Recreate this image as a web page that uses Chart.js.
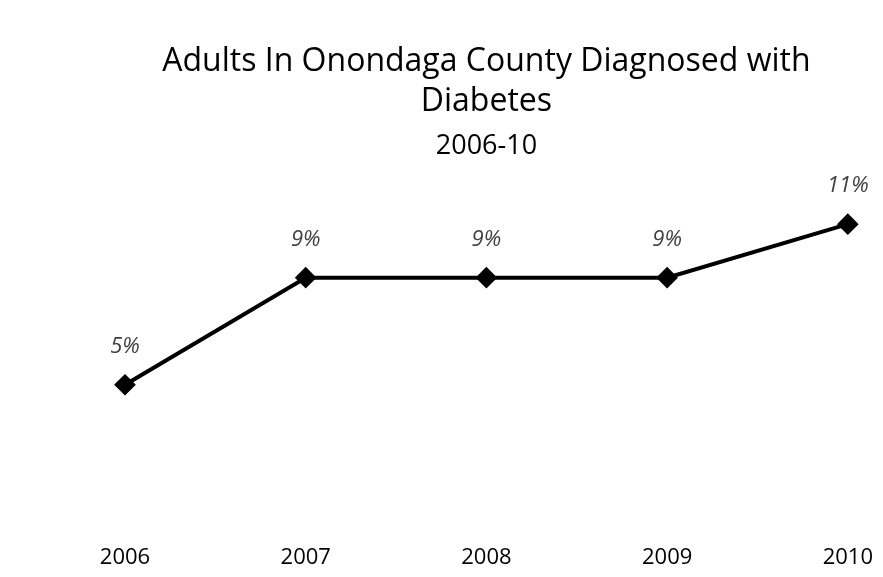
<!DOCTYPE html>
<html><head><meta charset="utf-8">
<script src="https://cdn.jsdelivr.net/npm/chart.js@4/dist/chart.umd.min.js"></script>
<style>html,body{margin:0;padding:0;background:#fff}#wrap{width:883px;height:577px}</style>
</head><body><div id="wrap"><canvas id="c"></canvas></div>
<script>
const years = ['2006','2007','2008','2009','2010'];
const diabetesPct = [5, 9, 9, 9, 11];
const pctLabels = ['5%','9%','9%','9%','11%'];
const titleLines = ['Adults In Onondaga County Diagnosed with','Diabetes'];
const subtitleText = '2006-10';

const FONT = "'Open Sans', Lato, sans-serif";
const labelPlugin = {
  id: 'ptLabels',
  afterDatasetsDraw(chart) {
    const ctx = chart.ctx;
    const meta = chart.getDatasetMeta(0);
    ctx.save();
    ctx.font = "italic 22px " + FONT;
    ctx.fillStyle = '#404040';
    ctx.textAlign = 'center';
    ctx.textBaseline = 'middle';
    meta.data.forEach((pt, i) => {
      ctx.fillText(pctLabels[i], pt.x, pt.y - 38);
    });
    ctx.restore();
  }
};

new Chart(document.getElementById('c'), {
  type: 'line',
  data: {
    labels: years,
    datasets: [{
      data: diabetesPct,
      borderColor: '#000',
      backgroundColor: '#000',
      borderWidth: 4,
      pointStyle: 'rectRot',
      pointRadius: 8,
      pointHoverRadius: 8,
      tension: 0
    }]
  },
  options: {
    responsive: true,
    maintainAspectRatio: false,
    animation: false,
    layout: { padding: { left: 125, right: 0, top: 42, bottom: -4 } },
    plugins: {
      legend: { display: false },
      tooltip: { enabled: false },
      title: {
        display: true,
        fullSize: false,
        text: titleLines,
        color: '#000',
        font: { family: FONT, size: 32, weight: 'normal', lineHeight: 1.25 },
        padding: { top: 0, bottom: 8 }
      },
      subtitle: {
        display: true,
        fullSize: false,
        text: subtitleText,
        color: '#000',
        font: { family: FONT, size: 27, weight: 'normal' },
        padding: { top: 0, bottom: 35 }
      }
    },
    scales: {
      x: {
        grid: { display: false, drawTicks: true, tickLength: 16 },
        border: { display: false },
        ticks: { color: '#000', font: { family: FONT, size: 22 }, padding: 10 }
      },
      y: { display: false, min: 0, max: 12 }
    }
  },
  plugins: [labelPlugin]
});
</script></body></html>
